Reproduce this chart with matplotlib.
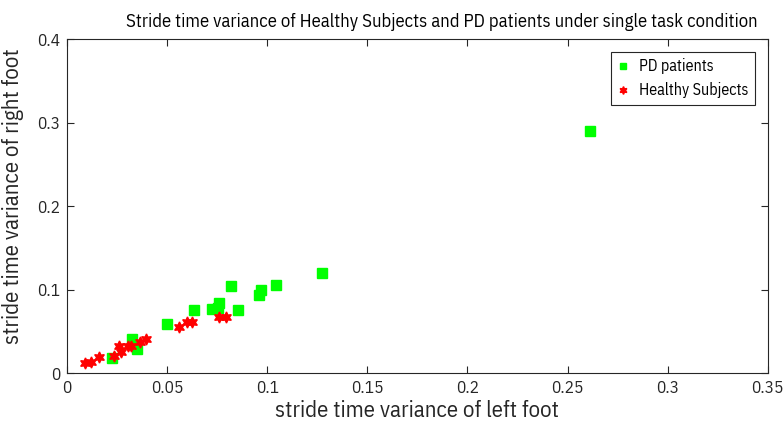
import matplotlib
matplotlib.use("Agg")
import matplotlib.pyplot as plt

# PD patients (left foot, right foot)
pd_left = [0.261, 0.1275, 0.1045, 0.097, 0.096, 0.082, 0.0855, 0.076, 0.0755, 0.0723,
           0.0632, 0.050, 0.0327, 0.035, 0.0223]
pd_right = [0.290, 0.120, 0.1055, 0.0995, 0.0935, 0.104, 0.0755, 0.084, 0.078, 0.0767,
            0.0755, 0.0588, 0.0408, 0.0288, 0.0176]

# Healthy subjects
hs_left = [0.009, 0.0118, 0.016, 0.0237, 0.026, 0.027, 0.0307, 0.0318, 0.0365, 0.0395,
           0.0558, 0.0598, 0.0625, 0.0757, 0.0793]
hs_right = [0.0116, 0.013, 0.0188, 0.0208, 0.032, 0.0256, 0.032, 0.033, 0.0375, 0.0408,
            0.0555, 0.061, 0.061, 0.0668, 0.0668]

xticks = [0, 0.05, 0.1, 0.15, 0.2, 0.25, 0.3, 0.35]
xticklabels = ['0', '0.05', '0.1', '0.15', '0.2', '0.25', '0.3', '0.35']
yticks = [0, 0.1, 0.2, 0.3, 0.4]
yticklabels = ['0', '0.1', '0.2', '0.3', '0.4']

# condensed look like the original; falls back if not there
plt.rcParams['font.family'] = ['IBM Plex Sans Condensed', 'Liberation Sans', 'DejaVu Sans']

fig = plt.figure(figsize=(7.83, 4.40), dpi=100)
ax = fig.add_axes([0.0856, 0.152, 0.895, 0.759])

ax.plot(pd_left, pd_right, 's', color='#00ff00', markersize=6.5, label='PD patients')
ax.plot(hs_left, hs_right, marker=(6, 1, 0), linestyle='none', color='red',
        markersize=8, label='Healthy Subjects')

ax.set_xlim(0, 0.35)
ax.set_ylim(0, 0.4)
ax.set_xticks(xticks)
ax.set_xticklabels(xticklabels)
ax.set_yticks(yticks)
ax.set_yticklabels(yticklabels)
ax.tick_params(direction='in', top=True, right=True, labelsize=12.5, colors='#262626',
               length=5, width=0.8, pad=5)
for s in ax.spines.values():
    s.set_color('#262626')
    s.set_linewidth(0.8)

ax.set_xlabel('stride time variance of left foot', fontsize=16.5, color='#262626')
ax.xaxis.set_label_coords(0.5, -0.08)
ax.set_ylabel('stride time variance of right foot', fontsize=16.5, color='#262626')
ax.yaxis.set_label_coords(-0.062, 0.53)
ax.set_title('Stride time variance of Healthy Subjects and PD patients under single task condition',
             fontsize=13.4, color='#000000', pad=9, x=0.535)

leg = ax.legend(loc='upper right', fontsize=11.5, fancybox=False, edgecolor='#262626',
                markerscale=0.7, handlelength=0.8, handletextpad=0.6,
                borderaxespad=0.8, framealpha=1)
leg.get_frame().set_linewidth(0.8)

fig.savefig('out.png', dpi=100)
